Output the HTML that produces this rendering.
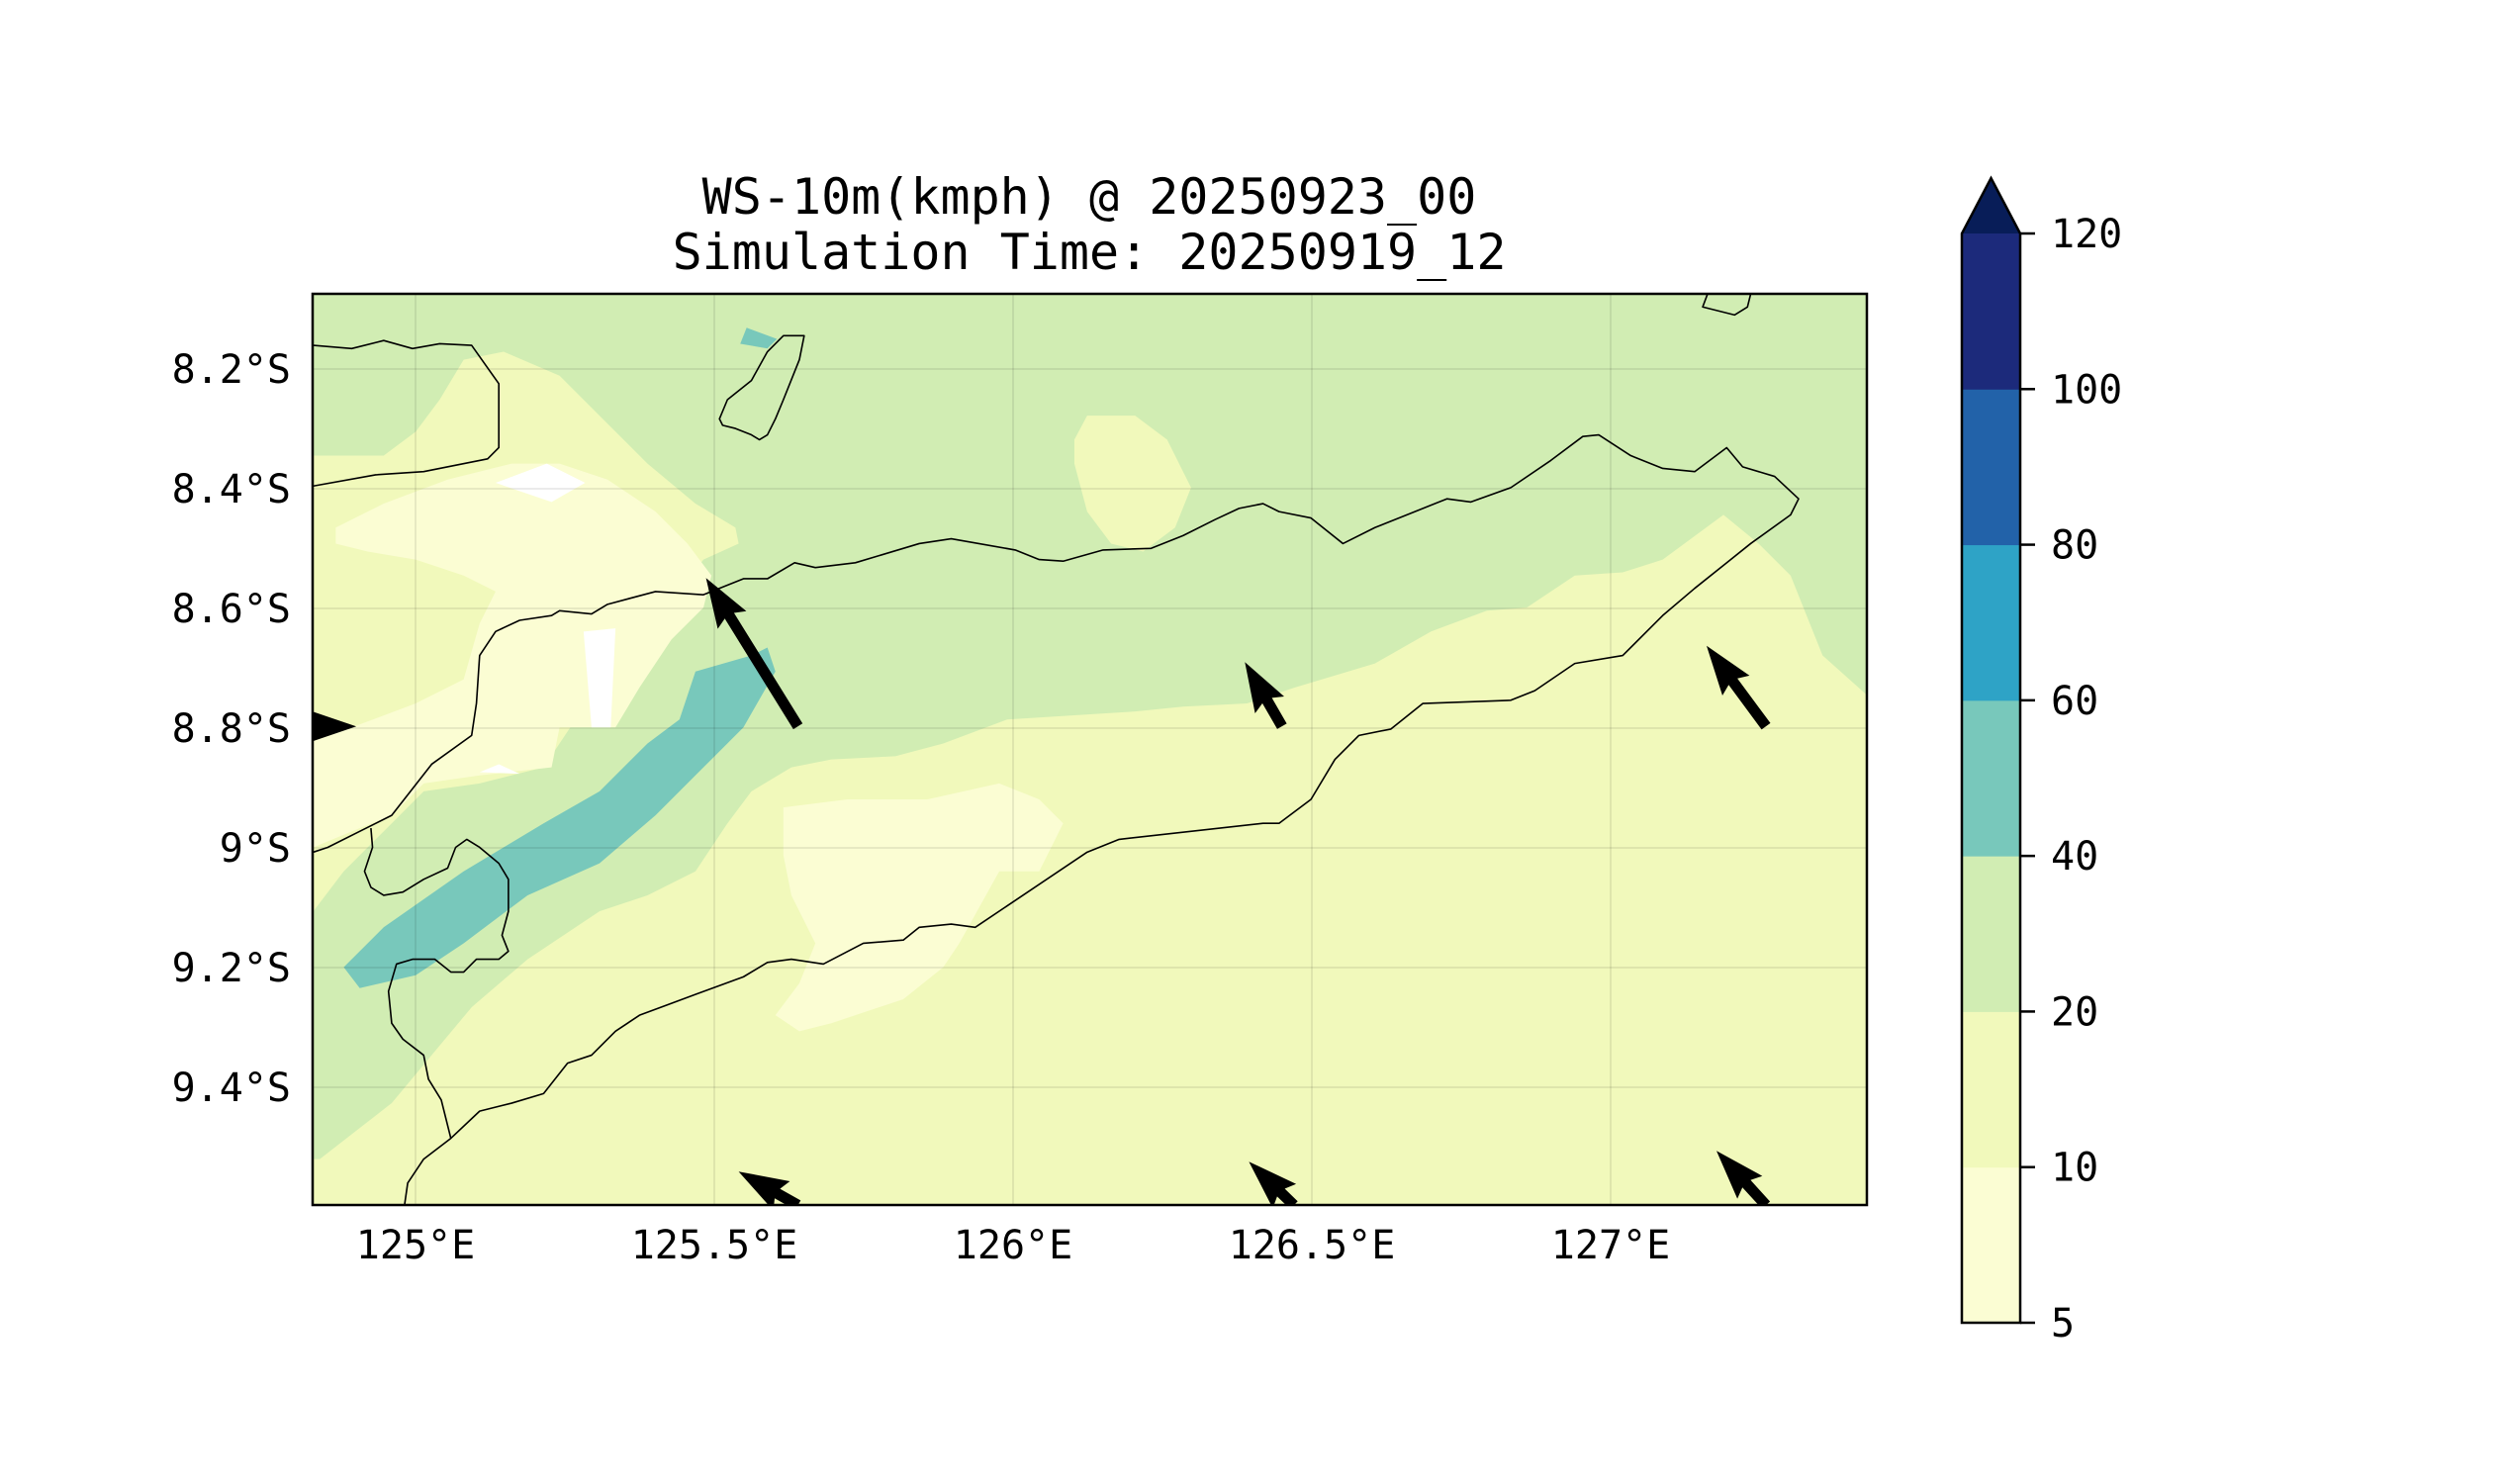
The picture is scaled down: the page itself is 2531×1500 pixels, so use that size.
<!DOCTYPE html>
<html><head><meta charset="utf-8"><style>
html,body{margin:0;padding:0;background:#fff;}
svg{display:block;font-family:"DejaVu Sans Mono","Liberation Mono",monospace;}
</style></head><body>
<svg id="chart" width="2531" height="1500" viewBox="0 0 2531 1500" xmlns="http://www.w3.org/2000/svg">
<defs><clipPath id="plotclip"><rect x="316" y="297" width="1571" height="921"/></clipPath></defs>
<text x="1101" y="216" font-size="50" text-anchor="middle">WS-10m(kmph) @ 20250923_00</text>
<text x="1101" y="272" font-size="50" text-anchor="middle">Simulation Time: 20250919_12</text>
<g clip-path="url(#plotclip)">
<rect x="316" y="297" width="1571" height="921" fill="#f1f9bb"/>
<g transform="scale(1.616)">
<path fill="#d1edb3" d="M196,184 L1168,184 L1168,435 L1140,410 L1120,360 L1100,340 L1078,322 L1040,350 L1015,358 L985,360 L955,380 L930,382 L895,395 L860,415 L810,430 L780,440 L740,442 L710,445 L630,450 L590,465 L560,473 L520,475 L495,480 L470,495 L455,515 L435,545 L405,560 L375,570 L330,600 L295,630 L270,660 L245,690 L200,725 L196,725 L196,570 L215,545 L240,520 L265,495 L300,490 L340,480 L360,450 L380,420 L405,395 L425,370 L440,350 L462,340 L460,330 L435,315 L405,290 L380,265 L350,235 L315,220 L290,225 L275,250 L260,270 L240,285 L196,285 Z"/>
<path fill="#fbfdd3" d="M210,330 L240,315 L280,300 L320,290 L350,290 L380,300 L410,320 L430,340 L445,360 L440,380 L420,400 L400,430 L385,455 L350,455 L345,480 L300,485 L265,490 L245,510 L220,520 L196,530 L196,460 L220,455 L260,440 L290,425 L300,390 L310,370 L290,360 L260,350 L230,345 L210,340 Z"/>
<path fill="#ffffff" d="M310,302 L342,290 L366,302 L345,314 Z"/>
<path fill="#ffffff" d="M365,395 L385,393 L382,455 L370,455 Z"/>
<path fill="#ffffff" d="M300,483 L312,478 L325,484 Z"/>
<path fill="#fbfdd3" d="M490,505 L530,500 L580,500 L625,490 L650,500 L665,515 L650,545 L625,545 L600,590 L590,605 L565,625 L520,640 L500,645 L485,635 L500,615 L510,590 L495,560 L490,535 Z"/>
<path fill="#f1f9bb" d="M680,260 L710,260 L730,275 L745,305 L735,330 L715,345 L695,340 L680,320 L672,290 L672,275 Z"/>
<path fill="#78c8bb" d="M215,605 L240,580 L290,545 L340,515 L375,495 L405,465 L425,450 L435,420 L470,410 L480,405 L485,420 L465,455 L440,480 L410,510 L375,540 L330,560 L290,590 L260,610 L225,618 Z"/>
<path fill="#78c8bb" d="M467,205 L486,212 L480,218 L463,215 Z"/>
<g fill="none" stroke="#000" stroke-width="1" stroke-linejoin="round">
<polyline points="196,216 220,218 240,213 258,218 275,215 295,216 312,240 312,280 305,287 265,295 235,297 196,304"/>
<polyline points="196,533 205,530 225,520 245,510 270,478 295,460 298,440 300,410 310,395 325,388 345,385 350,382 370,384 380,378 410,370 440,372 465,362 480,362 497,352 510,355 535,352 575,340 595,337 635,344 650,350 665,351 690,344 720,343 740,335 760,325 775,318 790,315 800,320 820,324 840,340 860,330 880,322 905,312 920,314 945,305 970,288 990,273 1000,272 1020,285 1040,293 1060,295 1080,280 1090,292 1110,298 1125,312 1120,322 1095,340 1080,352 1060,368 1040,385 1015,410 985,415 960,432 945,438 890,440 870,456 850,460 835,475 820,500 800,515 790,515 700,525 680,533 610,580 595,578 575,580 565,588 540,590 515,603 495,600 480,602 465,611 435,622 400,635 385,645 370,660 355,665 340,684 320,690 300,695 282,712 265,725 255,740 253,754"/>
<polyline points="232,518 233,530 228,545 232,555 240,560 252,558 265,550 280,543 285,530 292,525 300,530 312,540 318,550 318,570 314,585 318,595 312,600 298,600 290,608 282,608 272,600 258,600 248,603 243,620 245,640 252,650 265,660 268,675 276,688 282,712"/>
<path d="M450,262 L455,250 L470,238 L480,220 L490,210 L503,210 L500,225 L490,250 L485,262 L480,272 L475,275 L470,272 L460,268 L452,266 Z"/>
<polyline points="1068,184 1065,192 1085,197 1093,192 1095,184"/>
</g>
</g>
<g id="grid"></g>
<g id="quiver"></g>
</g>
<rect x="316" y="297" width="1571" height="921" fill="none" stroke="#000" stroke-width="2.5"/>
<g id="xticks"></g>
<g id="yticks"></g>
<g id="cbar"></g>
</svg>
<script>
const lonTicks=[125,125.5,126,126.5,127];
const lonLabels=["125°E","125.5°E","126°E","126.5°E","127°E"];
const latTicks=[8.2,8.4,8.6,8.8,9.0,9.2,9.4];
const latLabels=["8.2°S","8.4°S","8.6°S","8.8°S","9°S","9.2°S","9.4°S"];
const cbLevels=[5,10,20,40,60,80,100,120];
const cbColors=["#fbfdd3","#f1f9bb","#d1edb3","#78c8bb","#2ea3c6","#2262a9","#1c2a7b"];
const extendColor="#081d58";
const arrowLon=[125.64,126.45,127.26,124.818,125.64,126.47,127.26];
const arrowLat=[8.797,8.797,8.797,8.797,9.597,9.597,9.597];
const arrowU=[-18.6,-7.5,-12.0,10.0,-12.0,-9.1,-10.0];
const arrowV=[30.0,13.0,16.3,0.0,6.8,8.8,11.0];

const NS="http://www.w3.org/2000/svg";
function X(lon){return 420+(lon-125)*604;}
function Y(lat){return 373+(lat-8.2)*605;}
const cbTop=236,cbBot=1337,cbL=1983,cbR=2042;
function CY(i){return cbBot-(cbBot-cbTop)*i/(cbLevels.length-1);}
function mk(tag,attrs,parent){const e=document.createElementNS(NS,tag);for(const k in attrs)e.setAttribute(k,attrs[k]);parent.appendChild(e);return e;}

const grid=document.getElementById('grid');
lonTicks.forEach(function(v){
  const l=mk('line',{x1:X(v),x2:X(v),y1:297,y2:1218,stroke:'#000','stroke-opacity':0.08,'stroke-width':2},grid);
  
  
});
latTicks.forEach(function(v){
  const l=mk('line',{x1:316,x2:1887,y1:Y(v),y2:Y(v),stroke:'#000','stroke-opacity':0.08,'stroke-width':2},grid);
  
  
});

const xt=document.getElementById('xticks');
lonTicks.forEach(function(v,i){
  const t=mk('text',{x:X(v),y:1272,'font-size':40,'text-anchor':'middle'},xt);
  t.textContent=lonLabels[i];
  
  
});
const yt=document.getElementById('yticks');
latTicks.forEach(function(v,i){
  const t=mk('text',{x:294,y:Y(v)+14,'font-size':40,'text-anchor':'end'},yt);
  t.textContent=latLabels[i];
  
  
});

const q=document.getElementById('quiver');
const pxPerUnit=5,w=5.5,hl=50,hal=45,hw=17;
arrowLon.forEach(function(lon,i){
  const x0=X(lon),y0=Y(arrowLat[i]);
  const dx=arrowU[i]*pxPerUnit,dy=-arrowV[i]*pxPerUnit;
  const L=Math.hypot(dx,dy),ux=dx/L,uy=dy/L,nx=-uy,ny=ux;
  const tx=x0+dx,ty=y0+dy;
  const bx=tx-ux*hl,by=ty-uy*hl, ax=tx-ux*hal,ay=ty-uy*hal;
  const pts=[[x0+nx*w,y0+ny*w],[ax+nx*w,ay+ny*w],[bx+nx*hw,by+ny*hw],[tx,ty],[bx-nx*hw,by-ny*hw],[ax-nx*w,ay-ny*w],[x0-nx*w,y0-ny*w]];
  const p=mk('polygon',{points:pts.map(function(a){return a[0].toFixed(1)+','+a[1].toFixed(1);}).join(' '),fill:'#000'},q);
  
  
});

const cb=document.getElementById('cbar');
cbColors.forEach(function(c,i){
  const r=mk('rect',{x:cbL,y:CY(i+1),width:cbR-cbL,height:CY(i)-CY(i+1)+0.5,fill:c},cb);
  
  
});
const tri=mk('polygon',{points:cbL+','+cbTop+' '+((cbL+cbR)/2)+',180 '+cbR+','+cbTop,fill:extendColor},cb);


const outline=mk('path',{d:'M'+cbL+','+cbBot+' L'+cbL+','+cbTop+' L'+((cbL+cbR)/2)+',180 L'+cbR+','+cbTop+' L'+cbR+','+cbBot+' Z',fill:'none',stroke:'#000','stroke-width':2.5},cb);


cbLevels.forEach(function(v,i){
  const tk=mk('line',{x1:cbR,x2:cbR+15,y1:CY(i),y2:CY(i),stroke:'#000','stroke-width':2.5},cb);
  
  
  const t=mk('text',{x:2073,y:CY(i)+14,'font-size':40},cb);
  t.textContent=String(v);
  
  
});
</script>
</body></html>
